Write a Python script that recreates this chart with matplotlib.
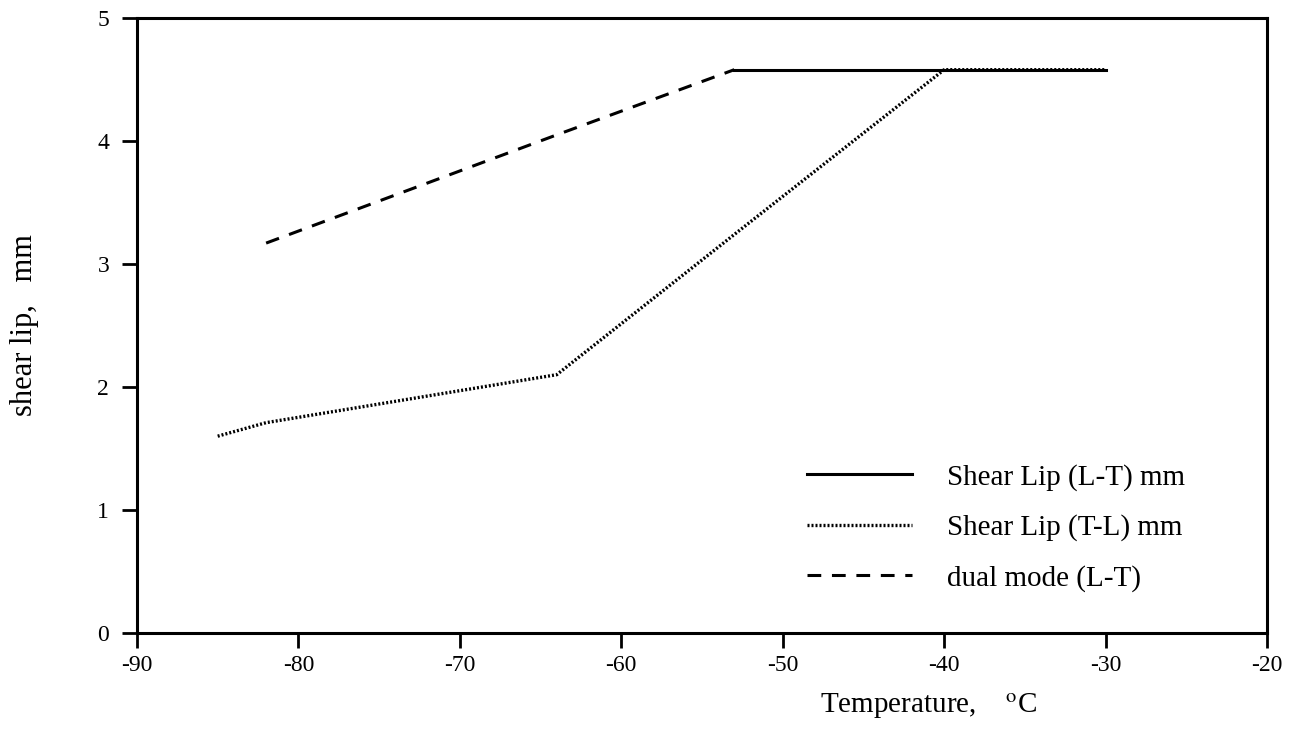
import matplotlib
matplotlib.use("Agg")
import matplotlib.pyplot as plt

plt.rcParams['font.family'] = ['Liberation Serif', 'DejaVu Serif']
plt.rcParams['axes.unicode_minus'] = False
plt.rcParams['mathtext.fontset'] = 'stix'

# Shear Lip (L-T)
temp_lt = [-53, -30]
lip_lt = [4.58, 4.58]

# Shear Lip (T-L)
temp_tl = [-85, -82, -64, -53, -40, -30]
lip_tl = [1.6, 1.71, 2.1, 3.24, 4.58, 4.58]

# dual mode (L-T)
temp_dual = [-82, -64, -53]
lip_dual = [3.17, 4.05, 4.58]

xticks = [-90, -80, -70, -60, -50, -40, -30, -20]
yticks = [0, 1, 2, 3, 4, 5]

fig = plt.figure(figsize=(12.97, 7.36), dpi=100)
ax = fig.add_axes([0.1056, 0.14, 0.8713, 0.8355])

ax.plot(temp_lt, lip_lt, color='black', lw=2.2, label='Shear Lip (L-T) mm')
ax.plot(temp_tl, lip_tl, color='black', lw=2.4, ls=(0, (0.6, 0.6)), label='Shear Lip (T-L) mm')
ax.plot(temp_dual, lip_dual, color='black', lw=2.2, ls=(0, (4.5, 3.5)), label='dual mode (L-T)')

ax.set_xlim(-90, -20)
ax.set_ylim(0, 5)
ax.set_xticks(xticks)
ax.set_yticks(yticks)
ax.tick_params(direction='out', length=11, width=2, labelsize=17)
ax.tick_params(axis='x', pad=5)
ax.tick_params(axis='y', pad=9)
for s in ax.spines.values():
    s.set_linewidth(2.2)

ax.set_ylabel('shear lip,   mm', fontsize=22)
ax.yaxis.set_label_coords(-0.087, 0.5)
ax.set_xlabel('Temperature,    $^{\\mathrm{o}}$C', fontsize=21)
ax.xaxis.set_label_coords(0.70, -0.095)

ax.legend(loc='center left', bbox_to_anchor=(0.583, 0.171), frameon=False,
          fontsize=21, handlelength=3.6, handletextpad=1.2, labelspacing=0.8,
          borderaxespad=0)

fig.savefig('out.png', dpi=100)
